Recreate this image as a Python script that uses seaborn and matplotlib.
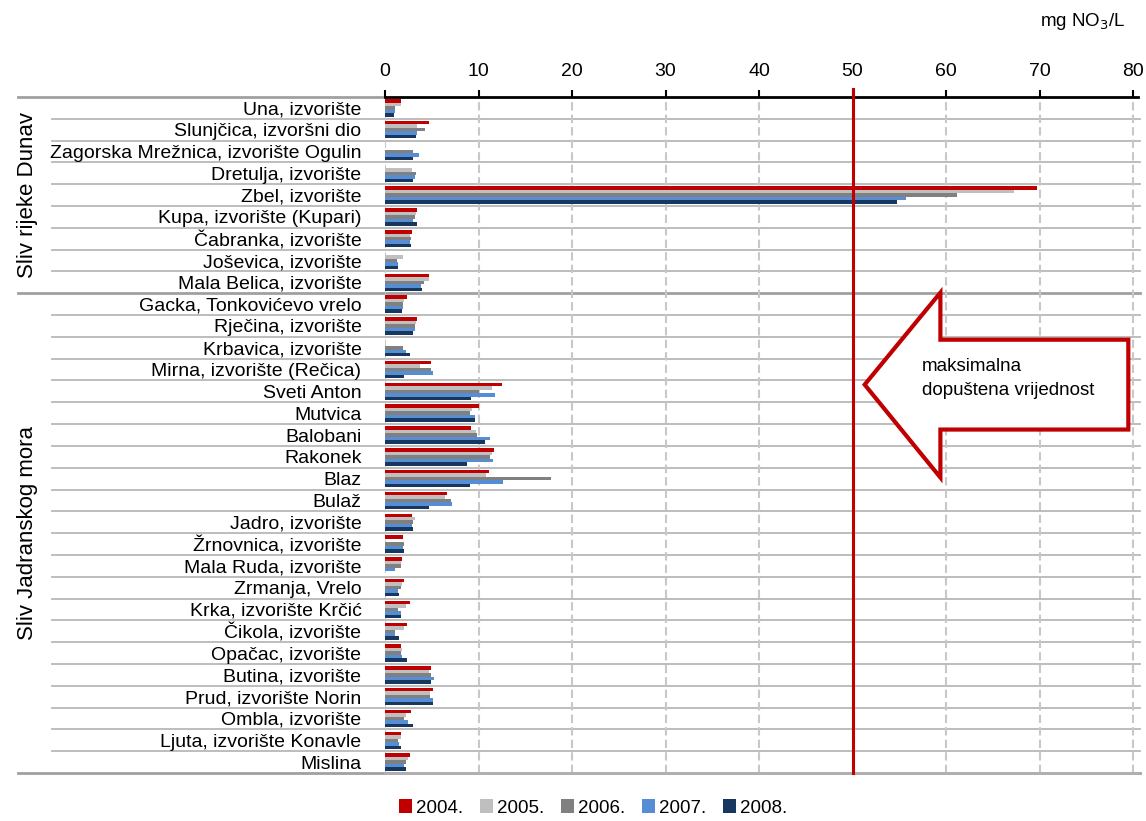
import numpy as np
import pandas as pd
import matplotlib
matplotlib.use('Agg')
import matplotlib.pyplot as plt
import seaborn as sns
from matplotlib.patches import Polygon, Patch

sites = ['Una, izvorište', 'Slunjčica, izvoršni dio', 'Zagorska Mrežnica, izvorište Ogulin',
         'Dretulja, izvorište', 'Zbel, izvorište', 'Kupa, izvorište (Kupari)',
         'Čabranka, izvorište', 'Joševica, izvorište', 'Mala Belica, izvorište',
         'Gacka, Tonkovićevo vrelo', 'Rječina, izvorište', 'Krbavica, izvorište',
         'Mirna, izvorište (Rečica)', 'Sveti Anton', 'Mutvica', 'Balobani', 'Rakonek',
         'Blaz', 'Bulaž', 'Jadro, izvorište', 'Žrnovnica, izvorište', 'Mala Ruda, izvorište',
         'Zrmanja, Vrelo', 'Krka, izvorište Krčić', 'Čikola, izvorište', 'Opačac, izvorište',
         'Butina, izvorište', 'Prud, izvorište Norin', 'Ombla, izvorište',
         'Ljuta, izvorište Konavle', 'Mislina']
years = ['2004.', '2005.', '2006.', '2007.', '2008.']

v2004 = [1.7, 4.7, np.nan, np.nan, 69.7, 3.4, 2.9, np.nan, 4.7,
         2.35, 3.4, np.nan, 4.9, 12.5, 10.05, 9.2, 11.65, 11.1, 6.6,
         2.9, 1.9, 1.8, 2.0, 2.7, 2.35, 1.7, 4.9, 5.1, 2.8, 1.7, 2.7]
v2005 = [1.7, 3.4, np.nan, 2.9, 67.3, 3.3, 2.7, 1.9, 4.7,
         2.0, 3.3, np.nan, 3.75, 11.4, 9.3, 9.7, 11.4, 10.8, 6.4,
         3.2, np.nan, 1.7, 1.8, 2.25, 2.0, 1.8, 4.7, 4.8, 2.25, 1.7, 2.5]
v2006 = [1.07, 4.3, 3.0, 3.3, 61.2, 3.2, 2.8, 1.3, 4.2,
         1.9, 3.2, 1.9, 4.9, 10.05, 9.1, 9.8, 11.2, 17.75, 7.1,
         3.0, 2.0, 1.7, 1.7, 1.4, 1.07, 1.7, 4.9, 4.8, 2.0, 1.4, 2.25]
v2007 = [1.07, 3.4, 3.6, 3.2, 55.7, 3.0, 2.7, 1.4, 3.85,
         1.9, 3.2, 2.25, 5.1, 11.8, 9.6, 11.2, 11.55, 12.6, 7.2,
         2.9, 1.9, 1.07, 1.4, 1.7, 1.07, 1.8, 5.2, 5.1, 2.5, 1.5, 2.0]
v2008 = [0.96, 3.3, 3.0, 3.0, 54.8, 3.4, 2.8, 1.4, 4.0,
         1.8, 3.0, 2.7, 2.0, 9.2, 9.6, 10.7, 8.8, 9.1, 4.7,
         3.0, 2.0, np.nan, 1.5, 1.7, 1.5, 2.35, 4.9, 5.1, 3.0, 1.7, 2.25]
colors = ['#C00000', '#BFBFBF', '#808080', '#558ED5', '#17375E']
limit = 50

rows = []
for yr, vals in zip(years, [v2004, v2005, v2006, v2007, v2008]):
    for s, v in zip(sites, vals):
        rows.append({'site': s, 'year': yr, 'value': v})
df = pd.DataFrame(rows)

plt.rcParams['font.family'] = ['Liberation Sans', 'DejaVu Sans']

fig = plt.figure(figsize=(11.46, 8.21), dpi=100)
W, H = 1146, 821
px = 9.35
x0, xmax = 385, 80.5
ax = fig.add_axes([x0 / W, 1 - 773 / H, xmax * px / W, (773 - 97) / H])

sns.barplot(data=df, y='site', x='value', hue='year', palette=colors,
            orient='h', width=0.8, ax=ax, legend=False, saturation=1, linewidth=0)

ax.set_xlim(0, xmax)
ax.set_ylim(len(sites) - 0.5, -0.5)
ax.set_xticks(range(0, 81, 10))
ax.xaxis.tick_top()
ax.tick_params(axis='x', length=5, width=1.5, pad=7, labelsize=14, direction='out', color='black')
ax.tick_params(axis='y', length=0, pad=17, labelsize=14)
ax.set_xlabel(''); ax.set_ylabel('')
for sp in ['left', 'right']:
    ax.spines[sp].set_visible(False)
ax.spines['top'].set_color('black'); ax.spines['top'].set_linewidth(2)
ax.spines['bottom'].set_color('#B0B0B0'); ax.spines['bottom'].set_linewidth(2)
ax.xaxis.grid(True, color='#C8C8C8', linestyle=(0, (4, 2)), linewidth=1.5)
ax.set_axisbelow(True)

# separators between categories
tr = ax.get_yaxis_transform()
aw = xmax * px
for i in range(len(sites) + 1):
    y = i - 0.5
    group_edge = i in (0, 9, len(sites))
    xs = (18 - x0) / aw if group_edge else (52 - x0) / aw
    col = '#A0A0A0' if group_edge else '#B8B8B8'
    lw = 2 if group_edge else 1.3
    ax.plot([xs, 0 if i == 0 else 1.003], [y, y], transform=tr, color=col, lw=lw,
            clip_on=False, zorder=0)

ax.plot([limit, limit], [-0.85, len(sites) - 0.5], color='#C00000', lw=2.2,
        zorder=5, clip_on=False)

# group labels
ax.text((17 - x0) / aw, 4, 'Sliv rijeke Dunav', transform=tr, rotation=90,
        ha='left', va='center', fontsize=16)
ax.text((17 - x0) / aw, 19.5, 'Sliv Jadranskog mora', transform=tr, rotation=90,
        ha='left', va='center', fontsize=16)

# arrow annotation
arrow = Polygon([(51.3, 12.69), (59.4, 8.47), (59.4, 10.63), (79.5, 10.63),
                 (79.5, 14.75), (59.4, 14.75), (59.4, 16.95)], closed=True,
                facecolor='white', edgecolor='#C00000', lw=3, zorder=6)
ax.add_patch(arrow)
ax.text(57.4, 12.4, 'maksimalna\ndopuštena vrijednost', ha='left', va='center',
        fontsize=13.5, linespacing=1.5, zorder=7)

fig.text(1125 / W, 1 - 22 / H, 'mg NO$_3$/L', ha='right', va='center', fontsize=13.5)

handles = [Patch(facecolor=c, label=y) for c, y in zip(colors, years)]
fig.legend(handles=handles, loc='center', bbox_to_anchor=(593 / W, 1 - 808 / H), ncol=5,
           frameon=False, fontsize=13.5, handlelength=0.7, handleheight=0.7,
           handletextpad=0.2, columnspacing=0.9)

fig.savefig('out.png', dpi=100)
